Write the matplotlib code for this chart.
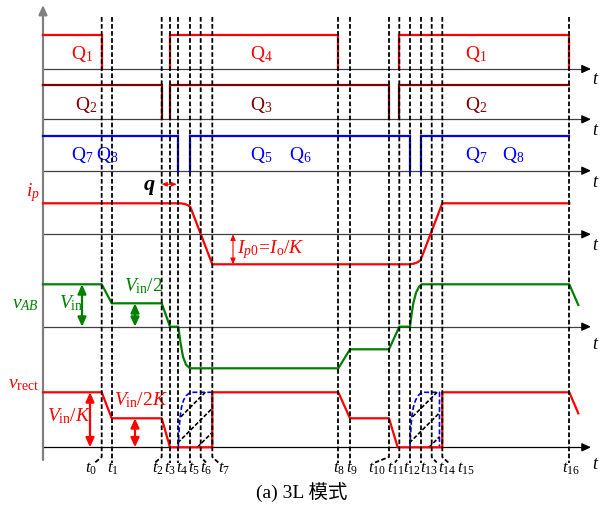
import matplotlib
matplotlib.use("Agg")
import matplotlib.pyplot as plt
from matplotlib.patches import Polygon

plt.rcParams["font.family"] = ["Liberation Serif", "Noto Sans CJK SC"]
plt.rcParams["mathtext.fontset"] = "custom"
plt.rcParams["mathtext.rm"] = "Liberation Serif"
plt.rcParams["mathtext.it"] = "Liberation Serif:italic"
plt.rcParams["mathtext.bf"] = "Liberation Serif:bold"

# time instants t0 .. t16 (horizontal position on the time axis)
t = [101.7, 111.7, 161.7, 170.0, 178.3, 190.0, 200.7, 212.3,
     338.3, 350.0, 389.0, 399.3, 410.0, 421.0, 431.7, 442.3, 569.3]
t_start = 43.0
t_names = [r"$t_{%d}$" % i for i in range(17)]

# gate signals: high intervals (start, end) for each row
q14_high = [(t_start, t[0]), (t[3], t[8]), (t[11], t[16])]
q23_high = [(t_start, t[2]), (t[3], t[10]), (t[11], t[16])]
q5678_high = [(t_start, t[4]), (t[5], t[12]), (t[13], t[16])]
gate_amp = 34.5

# primary current i_p
ip_x = [t_start, 180.0, 185.0, 188.0, 190.5, t[7], t[12], 414.0, 417.5, 420.5, t[15], t[16]]
ip_y = [31, 31, 30.3, 29, 27, -30, -30, -29.3, -28, -26, 31, 31]

# bridge voltage v_AB
vab_x = [t_start, t[0], t[1], t[2], t[3], t[4], 180.5, 183.0, 186.0, t[5],
         t[8], t[9], t[10], t[11], t[12], 411.5, 413.3, 416.0, 419.0, 421.7, t[16], 578.3]
vab_y = [42.4, 42.4, 23.4, 23.4, 0, 0, -16, -30, -38, -41.6,
         -41.6, -22.6, -22.6, 0, 0, 12, 23.4, 34, 40, 42.4, 42.4, 21.7]

# rectifier voltage v_rect
vr_x = [t_start, t[0], t[1], t[2], t[3], t[7], t[7], t[8], t[9], t[10], 397.7,
        t[15], t[15], t[16], 578.3]
vr_y = [55, 55, 29, 29, 0, 0, 55, 55, 29, 29, 0, 0, 55, 55, 34]

# dashed (ringing) envelope inside the zero-voltage intervals
env1_x = [t[4], 178.8, 180.0, 181.5, 183.5, 186.0, 189.0, 192.0, t[7], t[7]]
env2_x = [t[12], 410.5, 411.7, 413.3, 415.5, 418.0, 420.5, 423.0, 439.5, 439.5]
env_y = [0, 12, 30, 40, 47, 51.5, 54, 55, 55, 0]
hatch_offsets = [-28, -5, 19]

# ---- layout (pixel rows) ----
base_q1, base_q2, base_q3 = 69.0, 119.3, 170.7
base_ip, base_vab, base_vr = 234.3, 326.7, 447.3
x_end = 591

red = "#ff0000"
dred = "#800000"
blue = "#0000ff"
green = "#008000"
axis_c = "#404040"
lw_sig = 1.6

fig = plt.figure(figsize=(6.04, 5.05), dpi=100)
ax = fig.add_axes([0, 0, 1, 1])
ax.set_xlim(0, 604)
ax.set_ylim(505, 0)
ax.axis("off")

head = "-|>,head_length=0.55,head_width=0.25"
dhead = "<|-|>,head_length=0.55,head_width=0.25"

# vertical axis
ax.annotate("", xy=(t_start, 5), xytext=(t_start, 460),
            arrowprops=dict(arrowstyle=head, mutation_scale=10, lw=1.6,
                            color="#808080", shrinkA=0, shrinkB=0))
# horizontal axes with t labels
t_off = [15, 15.5, 16.5, 16, 22, 21.5]
for b, off, c in zip([base_q1, base_q2, base_q3, base_ip, base_vab, base_vr], t_off,
                     [axis_c] * 5 + ["black"]):
    ax.plot([t_start, x_end - 5], [b, b], color=c, lw=0.9, zorder=1)
    ax.annotate("", xy=(x_end, b), xytext=(x_end - 8, b),
                arrowprops=dict(arrowstyle=head, mutation_scale=10, lw=0.9,
                                color="black", shrinkA=0, shrinkB=0))
    ax.text(592, b + off, r"$t$", fontsize=13, ha="left", va="baseline")


def gate(intervals, base, color, drop_last):
    for i, (a, e) in enumerate(intervals):
        xs, ys = [], []
        if a != t_start:
            xs.append(a); ys.append(base)
        xs += [a, e]; ys += [base - gate_amp, base - gate_amp]
        if i < len(intervals) - 1 or drop_last:
            xs.append(e); ys.append(base)
        ax.plot(xs, ys, color=color, lw=lw_sig, zorder=3, solid_joinstyle="miter")


gate(q14_high, base_q1, red, True)
gate(q23_high, base_q2, dred, False)
gate(q5678_high, base_q3, blue, False)

ax.plot(ip_x, [base_ip - v for v in ip_y], color=red, lw=lw_sig, zorder=3)
ax.plot(vab_x, [base_vab - v for v in vab_y], color=green, lw=lw_sig, zorder=3)

# hatched zero-voltage regions
for ex in [env1_x, env2_x]:
    pts = [(x, base_vr - y) for x, y in zip(ex, env_y)]
    poly = Polygon(pts, closed=True, facecolor="none", edgecolor="none")
    ax.add_patch(poly)
    ax.plot(ex, [base_vr - y for y in env_y], color=blue, lw=1.2,
            linestyle=(0, (3, 1.5)), zorder=2)
    for d in hatch_offsets:
        xb = ex[0] + d
        ln, = ax.plot([xb, xb + 70], [base_vr, base_vr - 70], color="black",
                      lw=1.2, linestyle=(0, (2.5, 1.2)), zorder=2)
        ln.set_clip_path(poly)

ax.plot(vr_x, [base_vr - v for v in vr_y], color=red, lw=lw_sig, zorder=3)

# dashed time markers with hooks to labels
hook_dx = [-6.7, 0, -6.7, 0, 0, 0, 5.3, 6, 0, 0, -14, -4.3, 0, 0, 5, 6, 0]
label_x = [85, 107, 152, 164, 176.5, 188.5, 199.5, 218, 333, 346, 368, 387,
           403, 420.5, 438, 457, 562]
for x, dx, lx, nm in zip(t, hook_dx, label_x, t_names):
    ax.plot([x, x, x + dx], [17, 457, 462.5], color="black", lw=1.3,
            linestyle=(0, (2.6, 1.3)), zorder=4)
    ax.text(lx, 473, nm, fontsize=12, ha="left", va="baseline")

# gate labels
fs = 14
for x, nm in [(71, "1"), (250, "4"), (465, "1")]:
    ax.text(x, 59, r"$\mathrm{Q}_{%s}$" % nm, color=red, fontsize=fs, va="baseline")
for x, nm in [(75, "2"), (250, "3"), (465, "2")]:
    ax.text(x, 110, r"$\mathrm{Q}_{%s}$" % nm, color=dred, fontsize=fs, va="baseline")
for x, nm in [(71, "7"), (96, "8"), (250, "5"), (289, "6"), (465, "7"), (502, "8")]:
    ax.text(x, 160, r"$\mathrm{Q}_{%s}$" % nm, color=blue, fontsize=fs, va="baseline")

# q dead time marker
ax.text(144, 190, "q", fontsize=16, style="italic", weight="bold", va="baseline")
ax.annotate("", xy=(t[2], 184.3), xytext=(t[4] - 1.5, 184.3),
            arrowprops=dict(arrowstyle="<|-|>,head_length=0.5,head_width=0.22",
                            mutation_scale=6, lw=0.8, color=red, shrinkA=0, shrinkB=0))

# signal names
ax.text(26, 196, r"$i_p$", color=red, fontsize=fs, va="baseline")
ax.text(12, 308, r"$v_{AB}$", color=green, fontsize=fs, va="baseline")
ax.text(8, 388, r"$v_{\mathrm{rect}}$", color=red, fontsize=fs, va="baseline")

# amplitude annotations
ax.annotate("", xy=(233, base_ip), xytext=(233, base_ip + 30),
            arrowprops=dict(arrowstyle="<|-|>,head_length=0.5,head_width=0.22",
                            mutation_scale=7, lw=0.8, color=red, shrinkA=0, shrinkB=0))
ax.text(237, 253, r"$I_{p0}\!=\!I_{\mathrm{o}}/K$", color=red, fontsize=fs, va="baseline")

ax.annotate("", xy=(82, base_vab - 42.4), xytext=(82, base_vab),
            arrowprops=dict(arrowstyle=dhead, mutation_scale=10, lw=1.6,
                            color=green, shrinkA=0, shrinkB=0))
ax.text(59, 308, r"$V_{\mathrm{in}}$", color=green, fontsize=fs, va="baseline")
ax.annotate("", xy=(135, base_vab - 23.4), xytext=(135, base_vab),
            arrowprops=dict(arrowstyle=dhead, mutation_scale=10, lw=1.6,
                            color=green, shrinkA=0, shrinkB=0))
ax.text(124, 291.5, r"$V_{\mathrm{in}}/2$", color=green, fontsize=fs, va="baseline")

ax.annotate("", xy=(90, base_vr - 55), xytext=(90, base_vr),
            arrowprops=dict(arrowstyle=dhead, mutation_scale=10, lw=1.6,
                            color=red, shrinkA=0, shrinkB=0))
ax.text(47, 421.5, r"$V_{\mathrm{in}}/K$", color=red, fontsize=fs, va="baseline")
ax.annotate("", xy=(135, base_vr - 29), xytext=(135, base_vr),
            arrowprops=dict(arrowstyle=dhead, mutation_scale=10, lw=1.6,
                            color=red, shrinkA=0, shrinkB=0))
ax.text(114, 405, r"$V_{\mathrm{in}}/2K$", color=red, fontsize=fs, va="baseline")

ax.text(302, 499, "(a) 3L 模式", fontsize=14, ha="center", va="baseline")

fig.savefig("out.png", dpi=100)
